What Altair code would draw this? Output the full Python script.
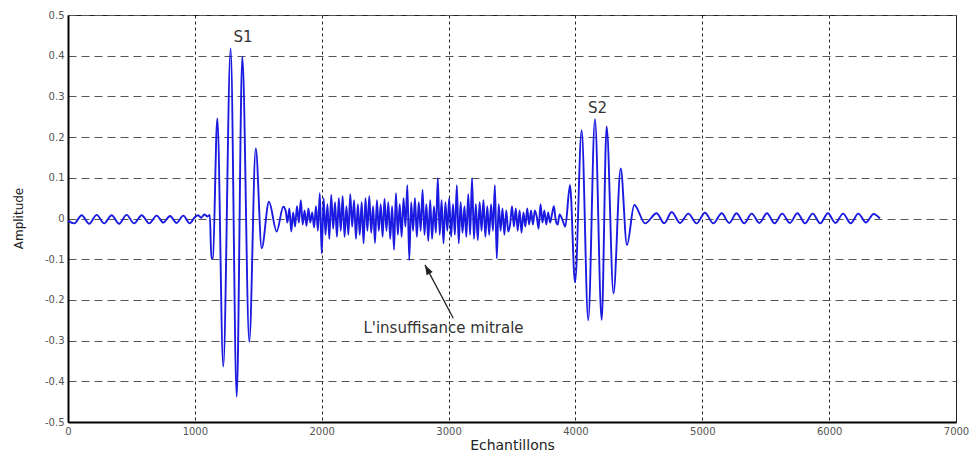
import altair as alt
import pandas as pd

# Phonocardiogram with a mitral regurgitation murmur between S1 and S2
# Resting baseline before S1
rest_left_x = [0, 50, 108, 167, 226, 285, 344, 403, 462, 521, 581, 640, 699, 752, 804, 856, 909, 960]
rest_left_y = [-0.006, -0.012, 0.008, -0.013, 0.009, -0.012, 0.008, -0.013, 0.009, -0.012,
               0.008, -0.012, 0.007, -0.01, 0.006, -0.011, 0.007, -0.012]

# First heart sound S1
s1_x = [1000, 1025, 1050, 1075, 1100, 1118, 1130, 1142, 1177, 1224, 1282, 1330, 1374, 1429,
        1480, 1527, 1584, 1645, 1697]
s1_y = [0.003, 0.008, 0.002, 0.01, 0.005, 0.009, -0.098, -0.097, 0.246, -0.364, 0.418, -0.438,
        0.398, -0.303, 0.172, -0.073, 0.041, -0.032, 0.029]

# Systolic murmur, sampled every 15 samples from 1715
murmur_start = 1715
murmur_step = 15
murmur_y = [
    0.02, -0.01, 0.025, -0.032, 0.015, -0.02, 0.03, -0.01, 0.045, -0.015,
    0.02, -0.018, 0.025, -0.01, 0.015, -0.022, 0.03, -0.03, 0.062, -0.086,
    0.05, -0.04, 0.035, -0.05, 0.058, -0.025, 0.04, -0.045, 0.05, -0.03,
    0.055, -0.045, 0.03, -0.04, 0.06, -0.02, 0.045, -0.05, 0.035, -0.04,
    0.04, -0.061, 0.05, -0.03, 0.055, -0.035, 0.03, -0.06, 0.045, -0.03,
    0.035, -0.045, 0.048, -0.03, 0.04, -0.05, 0.03, -0.077, 0.062, -0.04,
    0.035, -0.045, 0.05, -0.02, 0.082, -0.102, 0.04, -0.03, 0.05, -0.045,
    0.04, -0.03, 0.07, -0.04, 0.035, -0.055, 0.045, -0.05, 0.03, -0.035,
    0.099, -0.04, 0.045, -0.061, 0.04, -0.03, 0.05, -0.045, 0.035, -0.04,
    0.082, -0.061, 0.04, -0.035, 0.03, -0.045, 0.06, -0.04, 0.099, -0.05,
    0.035, -0.053, 0.04, -0.03, 0.045, -0.045, 0.03, -0.04, 0.035, -0.03,
    0.082, -0.098, 0.035, -0.03, 0.025, -0.04, 0.02, -0.032, -0.015, 0.03,
    -0.02, 0.025, -0.03, 0.02, -0.035, 0.015, -0.02, 0.025, -0.015, 0.02,
    -0.015, 0.02, 0.005, -0.025, 0.035, -0.01, 0.02, -0.015, 0.015, -0.01,
    0.01, 0.03, -0.005, -0.015, 0.01,
]

# Second heart sound S2
s2_x = [3900, 3920, 3957, 3997, 4049, 4101, 4154, 4207, 4246, 4300, 4357, 4406, 4464]
s2_y = [-0.005, -0.02, 0.082, -0.157, 0.217, -0.25, 0.244, -0.249, 0.226, -0.184, 0.123,
        -0.065, 0.033]

# Resting baseline after S2
rest_right_x = [4550, 4640, 4700, 4759, 4825, 4890, 4955, 5021, 5087, 5153, 5212, 5270, 5330,
                5390, 5450, 5510, 5570, 5630, 5690, 5750, 5810, 5870, 5930, 5990, 6050, 6110,
                6170, 6230, 6290, 6350, 6400]
rest_right_y = [-0.012, 0.013, -0.012, 0.016, -0.011, 0.012, -0.012, 0.014, -0.012, 0.013,
                -0.011, 0.013, -0.012, 0.012, -0.011, 0.013, -0.012, 0.012, -0.011, 0.013,
                -0.012, 0.012, -0.012, 0.013, -0.011, 0.012, -0.012, 0.012, -0.01, 0.011, 0.0]

x_ticks = [0, 1000, 2000, 3000, 4000, 5000, 6000, 7000]
y_ticks = [-0.5, -0.4, -0.3, -0.2, -0.1, 0, 0.1, 0.2, 0.3, 0.4, 0.5]

# Annotations
sound_labels = ["S1", "S2"]
sound_label_x = [1380, 4174]
sound_label_y = [0.446, 0.272]
murmur_label = "L'insuffisance mitrale"
murmur_label_x = 2960
murmur_label_y = -0.268
arrow_tail = (3037, -0.245)
arrow_tip = (2814, -0.114)
arrow_angle = 332

FONT = "DejaVu Sans"

murmur_x = [murmur_start + murmur_step * i for i in range(len(murmur_y))]
signal = pd.DataFrame({
    "sample": rest_left_x + s1_x + murmur_x + s2_x + rest_right_x,
    "amplitude": rest_left_y + s1_y + murmur_y + s2_y + rest_right_y,
})

x_scale = alt.Scale(domain=[0, 7000], nice=False, zero=False)
y_scale = alt.Scale(domain=[-0.5, 0.5], nice=False, zero=False)

x_axis = alt.Axis(
    values=x_ticks, format="d", title="Echantillons", grid=True,
    gridDash=[3, 3], gridColor="#222", gridWidth=1, ticks=False,
    domainColor="#000", domainWidth=2, labelFlush=False, labelOverlap=False,
    labelFont=FONT, labelFontSize=10, labelColor="#555", labelPadding=4,
    titleFont=FONT, titleFontSize=14, titleFontWeight="normal", titleColor="#222",
    titleBaseline="middle", titleY=23,
)
y_axis = alt.Axis(
    values=y_ticks, format="~g", title="Amplitude", grid=True,
    gridDash=[8, 5], gridColor="#555", gridWidth=1, ticks=False,
    domainColor="#000", domainWidth=2, labelFlush=False, labelOverlap=False,
    labelExpr="replace(datum.label, '\u2212', '-')",
    labelFont=FONT, labelFontSize=10, labelColor="#555", labelPadding=4,
    titleFont=FONT, titleFontSize=12, titleFontWeight="normal", titleColor="#222",
    titleBaseline="middle", titleX=-50, titleY=203,
)

line = alt.Chart(signal).mark_line(
    color="#1a1ae0", strokeWidth=1.9, interpolate="monotone"
).encode(
    x=alt.X("sample:Q", scale=x_scale, axis=x_axis),
    y=alt.Y("amplitude:Q", scale=y_scale, axis=y_axis),
)

sounds = alt.Chart(pd.DataFrame({
    "sample": sound_label_x, "amplitude": sound_label_y, "label": sound_labels,
})).mark_text(font=FONT, fontSize=15, color="#333", align="center", baseline="middle").encode(
    x=alt.X("sample:Q", scale=x_scale), y=alt.Y("amplitude:Q", scale=y_scale), text="label:N",
)

murmur_text = alt.Chart(pd.DataFrame({
    "sample": [murmur_label_x], "amplitude": [murmur_label_y], "label": [murmur_label],
})).mark_text(font=FONT, fontSize=15, color="#333", align="center", baseline="middle").encode(
    x=alt.X("sample:Q", scale=x_scale), y=alt.Y("amplitude:Q", scale=y_scale), text="label:N",
)

arrow_df = pd.DataFrame({
    "x0": [arrow_tail[0]], "y0": [arrow_tail[1]],
    "x1": [arrow_tip[0]], "y1": [arrow_tip[1]],
})
arrow_shaft = alt.Chart(arrow_df).mark_rule(color="#222", strokeWidth=1.3).encode(
    x=alt.X("x0:Q", scale=x_scale), y=alt.Y("y0:Q", scale=y_scale),
    x2="x1:Q", y2="y1:Q",
)
arrow_head = alt.Chart(arrow_df).mark_point(
    shape="M0,0 L0.35,1 L-0.35,1 Z", filled=True, color="#222", opacity=1,
    size=400, angle=arrow_angle,
).encode(
    x=alt.X("x1:Q", scale=x_scale), y=alt.Y("y1:Q", scale=y_scale),
)

chart = alt.layer(line, sounds, murmur_text, arrow_shaft, arrow_head).properties(
    width=888, height=407,
    padding={"left": 68, "top": 15, "right": 17, "bottom": 33},
    autosize=alt.AutoSizeParams(type="none"),
    background="white",
).configure_view(stroke="#222", strokeWidth=1)

chart.save("out.html", embed_options={"renderer": "svg", "actions": False})
